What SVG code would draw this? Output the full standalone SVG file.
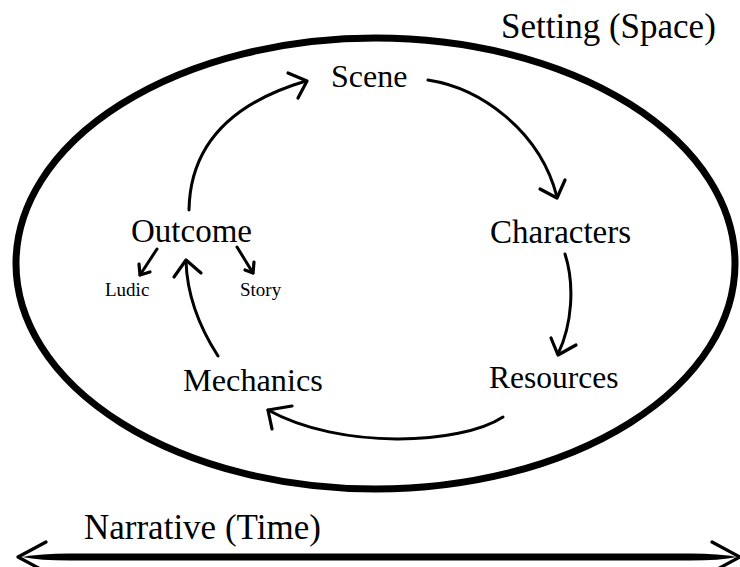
<svg xmlns="http://www.w3.org/2000/svg" width="740" height="567" viewBox="0 0 740 567">
<style>
text{font-family:"Liberation Serif","DejaVu Serif",serif;fill:#000}
.n{font-size:33px}
.s{font-size:19px}
.t{font-size:35px}
.c{fill:none;stroke:#000;stroke-width:3;stroke-linecap:round;stroke-linejoin:round}
.ch{fill:none;stroke:#000;stroke-width:3.2;stroke-linecap:round;stroke-linejoin:round}
.big{fill:none;stroke:#000;stroke-width:7}
</style>
<rect width="740" height="567" fill="#fff"/>
<g id="setting">
<ellipse class="big" cx="375.5" cy="263.5" rx="359.5" ry="225.5"/>
<text class="t" x="501" y="38">Setting (Space)</text>
</g>
<g id="scene"><text class="n" x="331" y="87" style="font-size:32px">Scene</text></g>
<g id="characters"><text class="n" x="490" y="243">Characters</text></g>
<g id="resources"><text class="n" x="489" y="388" style="font-size:31.5px">Resources</text></g>
<g id="mechanics"><text class="n" x="183" y="391" style="font-size:32.3px">Mechanics</text></g>
<g id="outcome"><text class="n" x="131" y="242">Outcome</text></g>
<g id="ludic"><text class="s" x="105" y="296">Ludic</text></g>
<g id="story"><text class="s" x="240" y="296">Story</text></g>
<g id="narrative">
<text class="t" x="84" y="539">Narrative (Time)</text>
<path d="M22,557 Q40,553.5 70,553.5 L690,553.5 Q720,553.5 737,557 Q720,560.5 690,560.5 L70,560.5 Q40,560.5 22,557 Z" fill="#000"/>
<polyline class="ch" points="46,542 18,557 46,572"/>
<polyline class="ch" points="712,542 740,557 712,572"/>
</g>
<g id="connectors">
<path class="c" d="M189,210 C190,150 225,105 306,81"/>
<polyline class="ch" points="288,73 307,81 298,98"/>
<path class="c" d="M428,80 C480,88 540,130 557,197"/>
<polyline class="ch" points="540,189 557,198 565,180"/>
<path class="c" d="M565,254 C575,285 572,325 558,354"/>
<polyline class="ch" points="551,338 558,355 576,345"/>
<path class="c" d="M503,417 C460,445 340,450 268,410"/>
<polyline class="ch" points="292,406 268,410 272,429"/>
<path class="c" d="M218,356 C198,325 187,295 186,261"/>
<polyline class="ch" points="174,277 186,260 201,273"/>
<path class="c" d="M157,249 L140,275"/>
<polyline class="ch" points="139,264 140,275 150,272"/>
<path class="c" d="M237,247 L253,273"/>
<polyline class="ch" points="245,270 253,273 254,262"/>
</g>
</svg>
